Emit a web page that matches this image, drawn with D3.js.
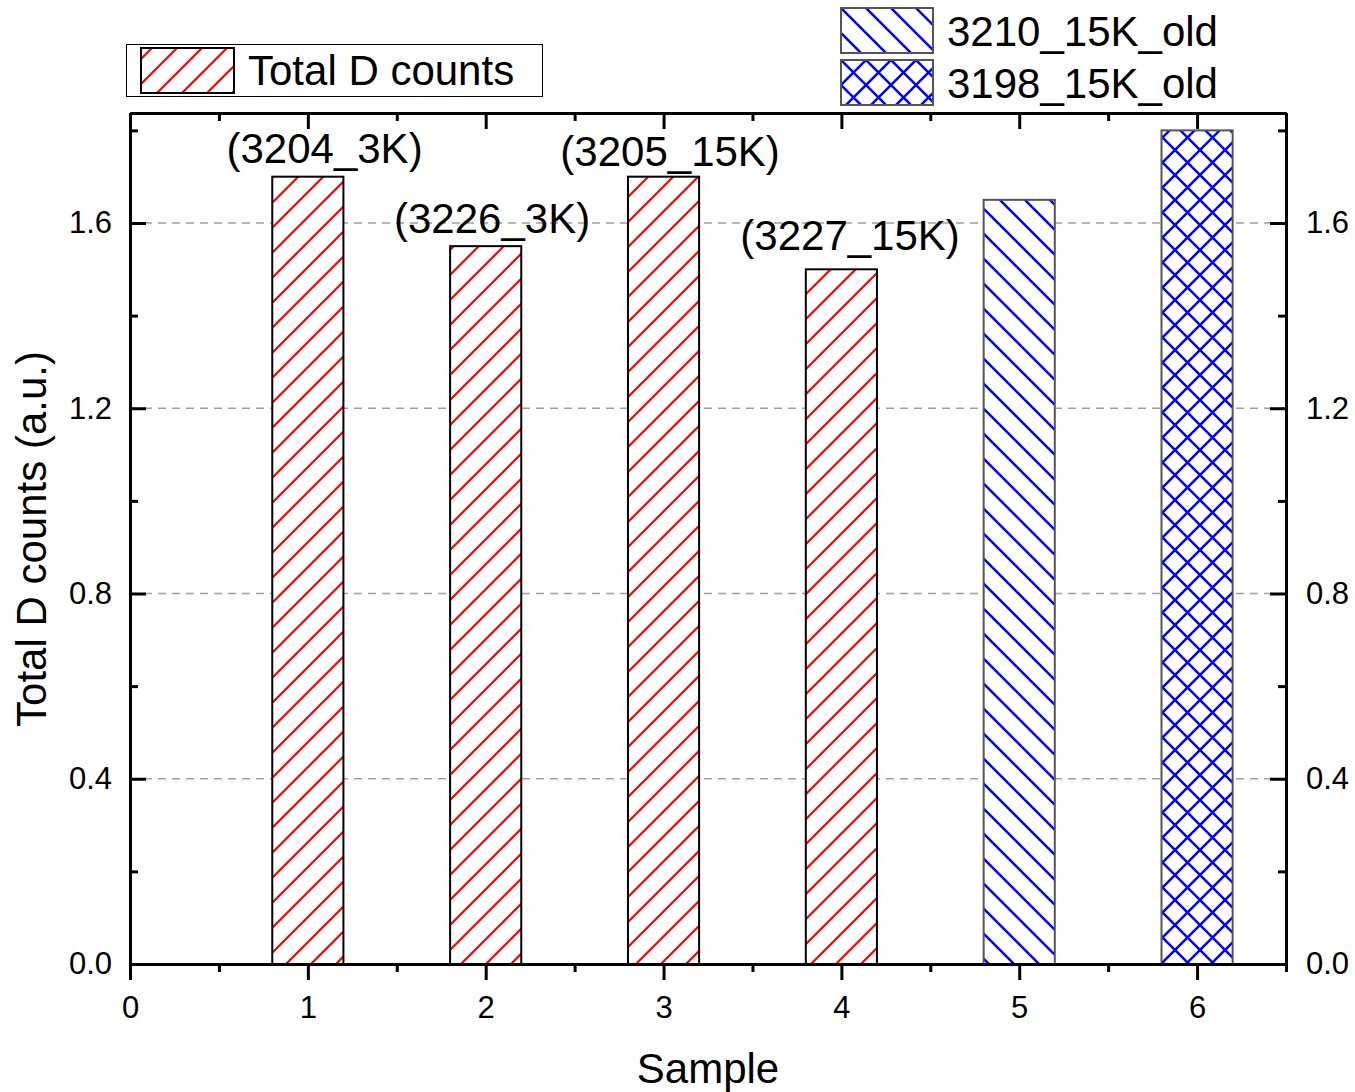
<!DOCTYPE html>
<html>
<head>
<meta charset="utf-8">
<script src="https://cdn.jsdelivr.net/npm/d3@7"></script>
<style>
  body { margin: 0; background: #fff; }
  svg { display: block; font-family: "Liberation Sans", Arial, sans-serif; }
</style>
</head>
<body>
<div id="chart"></div>
<script>
// data
const samples = [1, 2, 3, 4, 5, 6]
const counts = [1.70, 1.55, 1.70, 1.50, 1.65, 1.80]
const seriesOf = ['total', 'total', 'total', 'total', 'old3210', 'old3198']
const seriesNames = { total: 'Total D counts', old3210: '3210_15K_old', old3198: '3198_15K_old' }

const noteText = ['(3204_3K)', '(3226_3K)', '(3205_15K)', '(3227_15K)']
const noteX = [1.094, 2.036, 3.037, 4.049]
const noteY = [1.73, 1.578, 1.723, 1.542]

const xMajor = [0, 1, 2, 3, 4, 5, 6]
const xMinor = [0.5, 1.5, 2.5, 3.5, 4.5, 5.5, 6.5]
const yMajor = [0, 0.4, 0.8, 1.2, 1.6]
const yMinor = [0.2, 0.6, 1.0, 1.4, 1.8]

const W = 1355, H = 1092
const m = { left: 130, right: 1286, top: 113, bottom: 964 }
const barWidth = 0.4
const bigFont = 42
const tickFont = 31

const x = d3.scaleLinear().domain([0, 6.5]).range([m.left, m.right])
const y = d3.scaleLinear().domain([0, 1.8375]).range([m.bottom, m.top])

const svg = d3.select('#chart').append('svg')
  .attr('width', W).attr('height', H)

// hatch patterns
const defs = svg.append('defs')
function hatch(id, color, kinds, width) {
  const p = defs.append('pattern')
    .attr('id', id)
    .attr('patternUnits', 'userSpaceOnUse')
    .attr('width', 25).attr('height', 25)
  p.append('rect').attr('width', 25).attr('height', 25).attr('fill', '#fff')
  kinds.forEach(k => {
    const d = k === 'fwd'
      ? 'M-5,5 L5,-5 M0,25 L25,0 M20,30 L30,20'
      : 'M-5,20 L5,30 M0,0 L25,25 M20,-5 L30,5'
    p.append('path').attr('d', d)
      .attr('stroke', color).attr('stroke-width', width).attr('fill', 'none')
  })
}
hatch('p-total', '#ff0000', ['fwd'], 2.2)
hatch('p-old3210', '#0000ff', ['back'], 2.5)
hatch('p-old3198', '#0000ff', ['fwd', 'back'], 2.5)

const strokeOf = { total: '#000', old3210: '#555', old3198: '#555' }

// dashed grid lines
svg.append('g')
  .selectAll('line')
  .data(yMajor.filter(v => v > 0))
  .join('line')
  .attr('x1', m.left).attr('x2', m.right)
  .attr('y1', d => y(d)).attr('y2', d => y(d))
  .attr('stroke', '#a0a0a0')
  .attr('stroke-width', 1.5)
  .attr('stroke-dasharray', '8,6')

// bars
svg.append('g')
  .selectAll('rect')
  .data(samples.map((s, i) => ({ s, v: counts[i], k: seriesOf[i] })))
  .join('rect')
  .attr('x', d => x(d.s - barWidth / 2))
  .attr('width', d => x(d.s + barWidth / 2) - x(d.s - barWidth / 2))
  .attr('y', d => y(d.v))
  .attr('height', d => y(0) - y(d.v))
  .attr('fill', d => `url(#p-${d.k})`)
  .attr('stroke', d => strokeOf[d.k])
  .attr('stroke-width', 2)

// annotations
svg.append('g')
  .selectAll('text')
  .data(noteText.map((t, i) => ({ t, x: noteX[i], y: noteY[i] })))
  .join('text')
  .attr('x', d => x(d.x))
  .attr('y', d => y(d.y))
  .attr('text-anchor', 'middle')
  .attr('font-size', bigFont)
  .text(d => d.t)

// axes
function styleAxis(g) {
  g.selectAll('.domain').attr('stroke', '#000').attr('stroke-width', 3)
  g.selectAll('.tick line').attr('stroke', '#000').attr('stroke-width', 3)
  g.selectAll('.tick text').attr('font-size', tickFont).attr('fill', '#000')
    .attr('font-family', '"Liberation Sans", Arial, sans-serif')
}

const fmtY = d3.format('.1f')

// bottom: outward ticks
svg.append('g')
  .attr('transform', `translate(0,${m.bottom})`)
  .call(d3.axisBottom(x).tickValues(xMajor).tickSize(16).tickSizeOuter(0).tickPadding(16).tickFormat(d3.format('d')))
  .call(styleAxis)
svg.append('g')
  .attr('transform', `translate(0,${m.bottom})`)
  .call(d3.axisBottom(x).tickValues(xMinor).tickSize(8).tickSizeOuter(0).tickFormat(''))
  .call(styleAxis)

// top: inward ticks, no labels
svg.append('g')
  .attr('transform', `translate(0,${m.top})`)
  .call(d3.axisTop(x).tickValues(xMajor).tickSize(-16).tickSizeOuter(0).tickFormat(''))
  .call(styleAxis)
svg.append('g')
  .attr('transform', `translate(0,${m.top})`)
  .call(d3.axisTop(x).tickValues(xMinor).tickSize(-8).tickSizeOuter(0).tickFormat(''))
  .call(styleAxis)

// left: inward ticks
svg.append('g')
  .attr('transform', `translate(${m.left},0)`)
  .call(d3.axisLeft(y).tickValues(yMajor).tickSize(-16).tickSizeOuter(0).tickPadding(18).tickFormat(fmtY))
  .call(styleAxis)
svg.append('g')
  .attr('transform', `translate(${m.left},0)`)
  .call(d3.axisLeft(y).tickValues(yMinor).tickSize(-8).tickSizeOuter(0).tickFormat(''))
  .call(styleAxis)

// right: inward ticks
svg.append('g')
  .attr('transform', `translate(${m.right},0)`)
  .call(d3.axisRight(y).tickValues(yMajor).tickSize(-16).tickSizeOuter(0).tickPadding(20).tickFormat(fmtY))
  .call(styleAxis)
svg.append('g')
  .attr('transform', `translate(${m.right},0)`)
  .call(d3.axisRight(y).tickValues(yMinor).tickSize(-8).tickSizeOuter(0).tickFormat(''))
  .call(styleAxis)

// axis titles
svg.append('text')
  .attr('x', 708)
  .attr('y', 1083)
  .attr('text-anchor', 'middle')
  .attr('font-size', bigFont)
  .text('Sample')

svg.append('text')
  .attr('transform', `translate(46,539) rotate(-90)`)
  .attr('text-anchor', 'middle')
  .attr('font-size', bigFont)
  .text('Total D counts (a.u.)')

// legend 1 (boxed)
const leg1 = svg.append('g')
leg1.append('rect')
  .attr('x', 126.5).attr('y', 44.5).attr('width', 416).attr('height', 52)
  .attr('fill', '#fff').attr('stroke', '#000').attr('stroke-width', 1)
leg1.append('rect')
  .attr('x', 141).attr('y', 48).attr('width', 93).attr('height', 45)
  .attr('fill', 'url(#p-total)').attr('stroke', '#000').attr('stroke-width', 2)
leg1.append('text')
  .attr('x', 248).attr('y', 85)
  .attr('font-size', bigFont)
  .text(seriesNames.total)

// legend 2 (no frame)
const leg2Keys = ['old3210', 'old3198']
const leg2 = svg.append('g')
  .selectAll('g')
  .data(leg2Keys)
  .join('g')
  .attr('transform', (d, i) => `translate(841,${8 + i * 52})`)
leg2.append('rect')
  .attr('width', 92).attr('height', 45)
  .attr('fill', d => `url(#p-${d})`)
  .attr('stroke', '#555').attr('stroke-width', 2)
leg2.append('text')
  .attr('x', 106).attr('y', 38)
  .attr('font-size', bigFont)
  .text(d => seriesNames[d])
</script>
</body>
</html>
